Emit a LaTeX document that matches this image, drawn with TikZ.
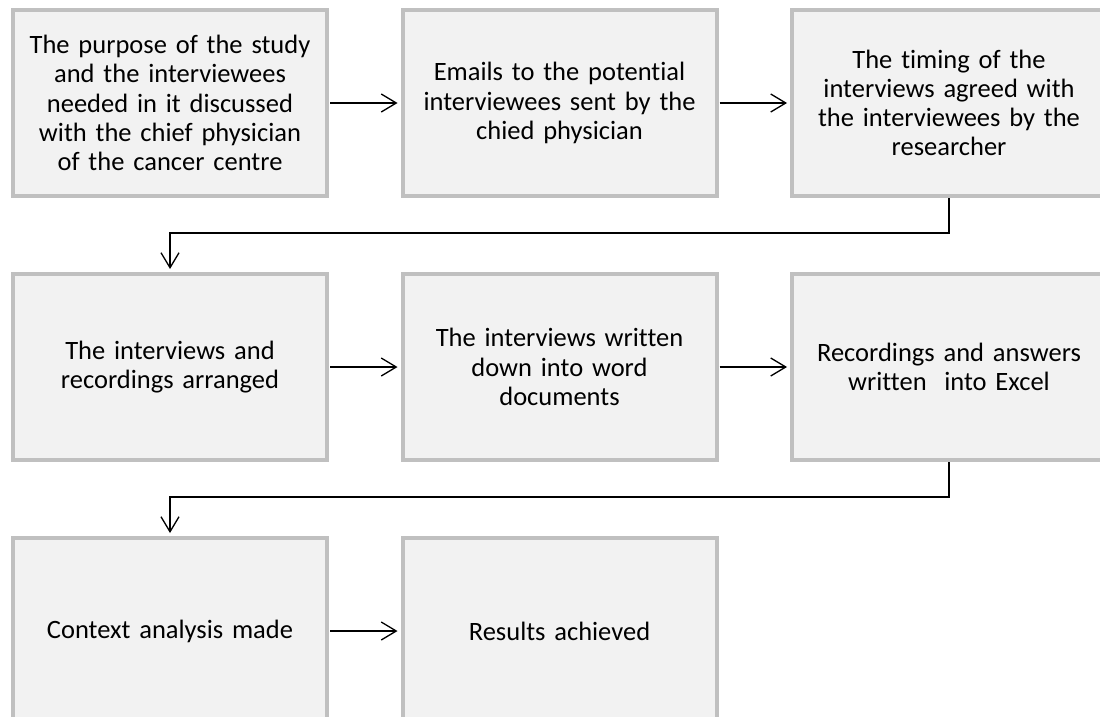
\documentclass[tikz,border=0pt]{standalone}
\usepackage{fontspec}
\setmainfont{Carlito}[Ligatures={NoCommon}]
\usepackage{xcolor}
\usetikzlibrary{arrows.meta,positioning}
\definecolor{boxfill}{HTML}{F2F2F2}
\definecolor{boxline}{HTML}{C0C0C0}

\begin{document}
\begin{tikzpicture}[
  node distance=74pt and 71.5pt,
  box/.style={draw=boxline, line width=4pt, fill=boxfill, align=center,
    minimum width=314pt, minimum height=186pt, text width=300pt,
    font=\fontsize{26.5}{29.2}\selectfont},
  arr/.style={-{Straight Barb[length=15pt,width=18pt]}, line width=1.3pt,
    shorten >=3pt, shorten <=1pt}
]
\useasboundingbox (0,0) rectangle (1100pt,-717pt);
\node[box] (purpose) at (170pt,-103pt) {The purpose of the study\\and the interviewees\\needed in it discussed\\with the chief physician\\of the cancer centre};
\node[box, right=of purpose] (emails) {Emails to the potential\\interviewees sent by the\\chied physician};
\node[box, right=of emails] (timing) {The timing of the\\interviews agreed with\\the interviewees by the\\researcher};
\node[box, below=of purpose] (arranged) {The interviews and\\recordings arranged};
\node[box, right=of arranged] (written) {The interviews written\\down into word\\documents};
\node[box, right=of written] (excel) {Recordings and answers\\written\ \ into Excel};
\node[box, below=of arranged] (analysis) {Context analysis made};
\node[box, right=of analysis] (results) {Results achieved};
\draw[arr] (purpose) -- (emails);
\draw[arr] (emails) -- (timing);
\draw[arr, shorten <=0pt] (timing.south) -- ++(0,-35pt) -| (arranged.north);
\draw[arr] (arranged) -- (written);
\draw[arr] (written) -- (excel);
\draw[arr, shorten <=0pt] (excel.south) -- ++(0,-35pt) -| (analysis.north);
\draw[arr] (analysis) -- (results);
\end{tikzpicture}
\end{document}
